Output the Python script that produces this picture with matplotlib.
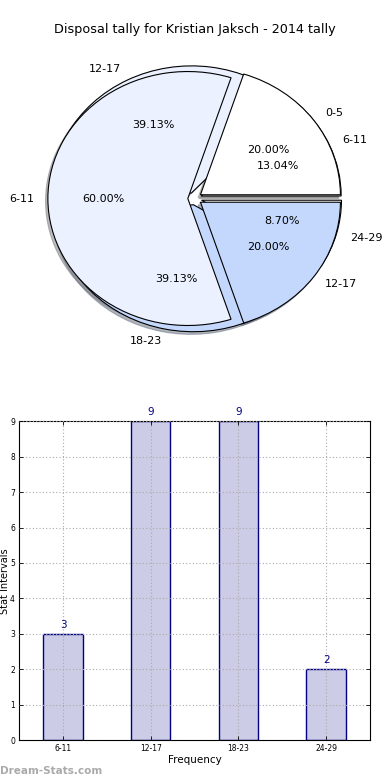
import matplotlib
matplotlib.use("Agg")
import matplotlib.pyplot as plt

title = "Disposal tally for Kristian Jaksch - 2014 tally"

# Pie A (drawn on top)
pie_a_labels = ["0-5", "6-11", "12-17"]
pie_a_values = [1, 3, 1]

# Pie B (drawn underneath)
pie_b_labels = ["6-11", "12-17", "18-23", "24-29"]
pie_b_values = [3, 9, 9, 2]

# Bar chart
bar_labels = ["6-11", "12-17", "18-23", "24-29"]
bar_values = [3, 9, 9, 2]
y_ticks = [0, 1, 2, 3, 4, 5, 6, 7, 8, 9]

pie_colors = ["#ffffff", "#ebf1fe", "#c4d8fd"]

fig = plt.figure(figsize=(3.9, 7.8), dpi=100)
fig.text(0.5, 1 - 30 / 780, title, ha="center", va="center", fontsize=9.2)

ax1 = fig.add_axes([0.051, 0.542, 0.897, 0.407])
wp = dict(edgecolor="black", linewidth=0.8)
shadow = dict(ox=-0.012, oy=-0.015, shade=0.5)
ax1.pie(pie_b_values, labels=pie_b_labels, autopct="%1.2f%%",
        explode=[0.05] * len(pie_b_values), shadow=shadow,
        colors=[pie_colors[i % 3] for i in range(len(pie_b_values))],
        wedgeprops=wp, textprops=dict(fontsize=8), counterclock=True)
ax1.pie(pie_a_values, labels=pie_a_labels, autopct="%1.2f%%",
        explode=[0.05] * len(pie_a_values), shadow=shadow,
        colors=[pie_colors[i % 3] for i in range(len(pie_a_values))],
        wedgeprops=wp, textprops=dict(fontsize=8), counterclock=True)
ax1.set_aspect("auto")
ax1.set_xlim(-1.25, 1.25)
ax1.set_ylim(-1.25, 1.25)
ax1.axis("off")

ax2 = fig.add_axes([0.049, 0.051, 0.9, 0.409])
x = list(range(len(bar_values)))
bars = ax2.bar(x, bar_values, width=0.45, color="#cccce6",
               edgecolor="#000080", linewidth=1, zorder=1)
for xi, v in zip(x, bar_values):
    ax2.text(xi, v + 0.12, str(v), ha="center", va="bottom", color="#000080", fontsize=7.5)
ax2.set_xlim(-0.5, 3.5)
ax2.set_ylim(0, 9)
ax2.set_xticks(x)
ax2.set_xticklabels(bar_labels, fontsize=5.5)
ax2.set_yticks(y_ticks)
ax2.set_yticklabels([str(t) for t in y_ticks], fontsize=5.5)
ax2.tick_params(direction="in", length=3, top=True, right=True, pad=3, width=0.6)
ax2.grid(True, linestyle=(0, (1, 2)), color="#aaaaaa", linewidth=0.8, zorder=2)
ax2.set_axisbelow(False)
ax2.set_xlabel("Frequency", fontsize=7.5, labelpad=1)
ax2.set_ylabel("Stat Intervals", fontsize=7, labelpad=1)
ax2.yaxis.set_label_coords(-0.025, 0.5)
for s in ax2.spines.values():
    s.set_linewidth(0.8)

fig.text(0.0, 1 - 771 / 780, "Dream-Stats.com", ha="left", va="center",
         fontsize=7.5, color="#aaaaaa", fontweight="bold")

fig.savefig("out.png", dpi=100)
